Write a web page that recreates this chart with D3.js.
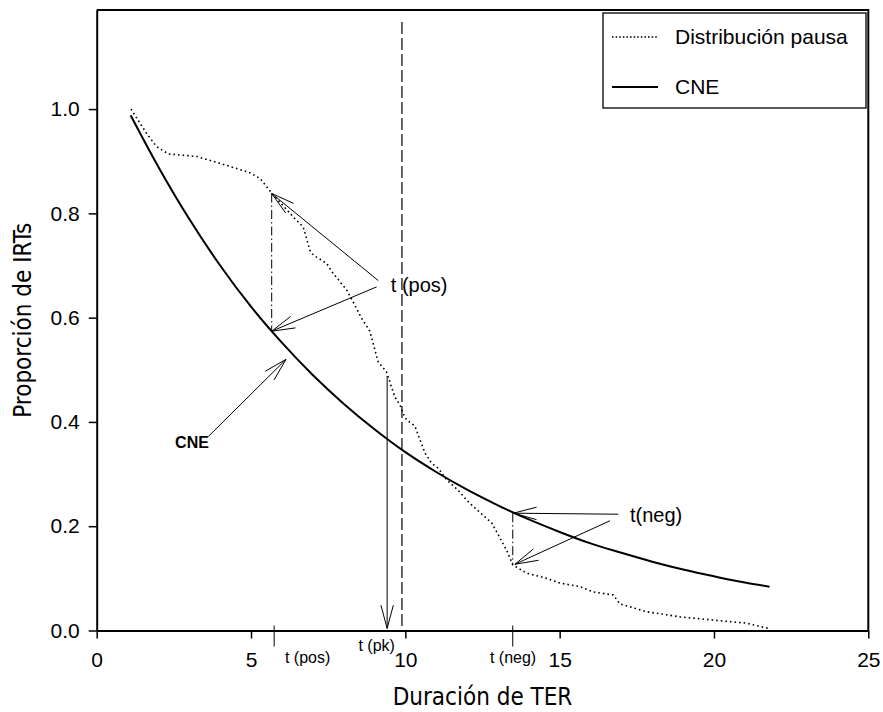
<!DOCTYPE html>
<html lang='es'>
<head>
  <meta charset='UTF-8'>
  <title>CNE vs distribución pausa</title>
  <script src="https://d3js.org/d3.v7.min.js"></script>
  <style>
    body { margin: 0; background: #fff; }
    svg { display: block; }
    .axis path, .axis line { stroke: #000; }
    .axis text { font-family: 'Liberation Sans', Arial, sans-serif; font-size: 21px; fill: #000; }
    .title { font-family: 'DejaVu Sans', sans-serif; font-stretch: condensed; font-size: 24px; }
    .note { font-family: 'Liberation Sans', Arial, sans-serif; }
  </style>
</head>
<body>
  <div id="chart"></div>
  <script>
    // ejes
    const xTicks = [0, 5, 10, 15, 20, 25];
    const yTicks = [0, 0.2, 0.4, 0.6, 0.8, 1.0];

    // curva CNE
    const cneX = [1.1, 2, 3, 4, 5, 6, 7, 8, 9, 10, 11, 12, 13, 14, 15, 16, 17, 18, 19, 20, 21, 21.8];
    const cneY = [0.988, 0.889, 0.789, 0.700, 0.621, 0.552, 0.490, 0.435, 0.386, 0.342, 0.304,
      0.270, 0.240, 0.213, 0.189, 0.167, 0.149, 0.132, 0.117, 0.104, 0.092, 0.084];

    // distribución pausa (línea punteada)
    const pauseX = [1.11, 1.62, 1.94, 2.32, 3.24, 3.99, 4.64, 4.96, 5.29, 5.67, 6.37, 6.69, 6.91, 7.02,
      7.45, 7.66, 8.10, 8.31, 8.58, 8.85, 9.12, 9.39, 9.66, 9.83, 9.93, 10.04, 10.31, 10.64, 10.85,
      11.07, 11.34, 11.71, 11.99, 12.09, 12.52, 12.80, 12.96, 13.28, 13.48, 13.93, 14.58, 15.01,
      15.66, 16.09, 16.74, 16.95, 17.82, 18.91, 19.98, 21.06, 21.76];
    const pauseY = [1.000, 0.953, 0.928, 0.914, 0.909, 0.896, 0.884, 0.878, 0.867, 0.839, 0.793, 0.774,
      0.729, 0.720, 0.704, 0.685, 0.653, 0.630, 0.599, 0.574, 0.515, 0.496, 0.448, 0.432, 0.416,
      0.404, 0.392, 0.340, 0.321, 0.311, 0.289, 0.269, 0.250, 0.244, 0.221, 0.206, 0.189, 0.154,
      0.126, 0.110, 0.100, 0.091, 0.084, 0.074, 0.068, 0.051, 0.036, 0.026, 0.020, 0.014, 0.004];

    // marcas de tiempo
    const tPos = 5.67, tPk = 9.41, tNeg = 13.48, tDash = 9.89;
    const tPosTop = 0.838, tPosBottom = 0.574;
    const tNegTop = 0.225, tNegBottom = 0.126;
    const tPkTop = 0.488, dashTop = 1.167;
    const specialTicks = [5.75, 13.48];

    // flechas [x1, y1, x2, y2] (cola -> punta)
    const arrows = [
      [9.125, 0.671, 5.67, 0.838],
      [9.07, 0.659, 5.67, 0.574],
      [3.616, 0.372, 6.134, 0.520],
      [16.90, 0.223, 13.50, 0.225],
      [16.63, 0.2105, 13.55, 0.127],
      [tPk, tPkTop, tPk, 0.004]
    ];

    const width = 883, height = 712;
    const mLeft = 96.7, mRight = 868.3, mTop = 10, mBottom = 630.5;

    const svg = d3.select('#chart').append('svg')
      .attr('width', width)
      .attr('height', height);

    const xScale = d3.scaleLinear().domain([0, 25]).range([mLeft, mRight]);
    const yScale = d3.scaleLinear().domain([0, 1.19]).range([mBottom, mTop]);

    // marco
    svg.append('path')
      .attr('d', `M${mLeft},${mTop}H${mRight}V${mBottom}`)
      .attr('fill', 'none')
      .attr('stroke', '#000')
      .attr('stroke-width', 2);

    const xAxis = d3.axisBottom(xScale).tickValues(xTicks).tickSize(8).tickSizeOuter(0).tickPadding(14)
      .tickFormat(d3.format('d'));
    const yAxis = d3.axisLeft(yScale).tickValues(yTicks).tickSize(8).tickSizeOuter(0).tickPadding(9)
      .tickFormat(d3.format('.1f'));

    const gx = svg.append('g').attr('class', 'axis')
      .attr('transform', `translate(0,${mBottom})`).call(xAxis);
    gx.select('.domain').attr('stroke-width', 2);
    gx.selectAll('.tick line').attr('stroke-width', 1.5);

    const gy = svg.append('g').attr('class', 'axis')
      .attr('transform', `translate(${mLeft},0)`).call(yAxis);
    gy.select('.domain').attr('stroke-width', 2);
    gy.selectAll('.tick line').attr('stroke-width', 1.5);

    // ticks especiales
    svg.selectAll('.sp-tick').data(specialTicks).enter().append('line')
      .attr('x1', (d) => xScale(d)).attr('x2', (d) => xScale(d))
      .attr('y1', mBottom - 5).attr('y2', mBottom + 16)
      .attr('stroke', '#000').attr('stroke-width', 1);

    // títulos
    svg.append('text').attr('class', 'title')
      .attr('x', (mLeft + mRight) / 2).attr('y', 705)
      .attr('text-anchor', 'middle')
      .text('Duración de TER');
    svg.append('text').attr('class', 'title')
      .attr('transform', `translate(31,${(mTop + mBottom) / 2}) rotate(-90)`)
      .attr('text-anchor', 'middle')
      .text('Proporción de IRTs');

    // líneas
    const line = d3.line()
      .x((d) => xScale(d[0]))
      .y((d) => yScale(d[1]));

    svg.append('path')
      .datum(pauseX.map((x, i) => [x, pauseY[i]]))
      .attr('fill', 'none')
      .attr('stroke', '#000')
      .attr('stroke-width', 1.6)
      .attr('stroke-dasharray', '1.6,3')
      .attr('d', line);

    svg.append('path')
      .datum(cneX.map((x, i) => [x, cneY[i]]))
      .attr('fill', 'none')
      .attr('stroke', '#000')
      .attr('stroke-width', 2)
      .attr('d', line.curve(d3.curveMonotoneX));
    line.curve(d3.curveLinear);

    // línea discontinua
    svg.append('line')
      .attr('x1', xScale(tDash)).attr('x2', xScale(tDash))
      .attr('y1', yScale(dashTop)).attr('y2', yScale(0))
      .attr('stroke', '#000').attr('stroke-width', 1.2)
      .attr('stroke-dasharray', '12,4');

    // líneas de punto y raya
    [[tPos, tPosTop, tPosBottom], [tNeg, tNegTop, tNegBottom]].forEach(([x, y1, y2]) => {
      svg.append('line')
        .attr('x1', xScale(x)).attr('x2', xScale(x))
        .attr('y1', yScale(y1)).attr('y2', yScale(y2))
        .attr('stroke', '#000').attr('stroke-width', 1)
        .attr('stroke-dasharray', '9,3,1.5,3');
    });

    // flechas
    const headLen = 24, headAng = 15 * Math.PI / 180;
    arrows.forEach(([x1, y1, x2, y2]) => {
      const px1 = xScale(x1), py1 = yScale(y1), px2 = xScale(x2), py2 = yScale(y2);
      const a = Math.atan2(py1 - py2, px1 - px2);
      svg.append('line')
        .attr('x1', px1).attr('y1', py1).attr('x2', px2).attr('y2', py2)
        .attr('stroke', '#000').attr('stroke-width', 1);
      [-headAng, headAng].forEach((s) => {
        svg.append('line')
          .attr('x1', px2).attr('y1', py2)
          .attr('x2', px2 + headLen * Math.cos(a + s))
          .attr('y2', py2 + headLen * Math.sin(a + s))
          .attr('stroke', '#000').attr('stroke-width', 1);
      });
    });

    // textos
    svg.append('text').attr('class', 'note')
      .attr('x', xScale(9.53)).attr('y', yScale(0.6625)).attr('dy', '0.35em')
      .attr('font-size', 20).text('t (pos)');
    svg.append('text').attr('class', 'note')
      .attr('x', xScale(17.28)).attr('y', yScale(0.2215)).attr('dy', '0.35em')
      .attr('font-size', 20).text('t(neg)');
    svg.append('text').attr('class', 'note')
      .attr('x', xScale(2.54)).attr('y', yScale(0.36)).attr('dy', '0.35em')
      .attr('font-size', 16).attr('font-weight', 'bold').text('CNE');

    svg.append('text').attr('class', 'note')
      .attr('x', xScale(6.10)).attr('y', mBottom + 27).attr('dy', '0.35em')
      .attr('font-size', 16).text('t (pos)');
    svg.append('text').attr('class', 'note')
      .attr('x', xScale(8.48)).attr('y', mBottom + 15).attr('dy', '0.35em')
      .attr('font-size', 16).text('t (pk)');
    svg.append('text').attr('class', 'note')
      .attr('x', xScale(12.74)).attr('y', mBottom + 27).attr('dy', '0.35em')
      .attr('font-size', 16).text('t (neg)');

    // leyenda
    const legend = svg.append('g');
    legend.append('rect')
      .attr('x', 603).attr('y', 13).attr('width', 263).attr('height', 95)
      .attr('fill', '#fff').attr('stroke', '#000').attr('stroke-width', 1.3);
    const legItems = [
      { label: 'Distribución pausa', dash: '1.6,2', w: 1.4 },
      { label: 'CNE', dash: null, w: 2 }
    ];
    legItems.forEach((d, i) => {
      const y = 37 + i * 50;
      legend.append('line')
        .attr('x1', 612).attr('x2', 658).attr('y1', y).attr('y2', y)
        .attr('stroke', '#000').attr('stroke-width', d.w)
        .attr('stroke-dasharray', d.dash);
      legend.append('text').attr('class', 'note')
        .attr('x', 675).attr('y', y).attr('dy', '0.35em')
        .attr('font-size', 21).text(d.label);
    });
  </script>
</body>
</html>
